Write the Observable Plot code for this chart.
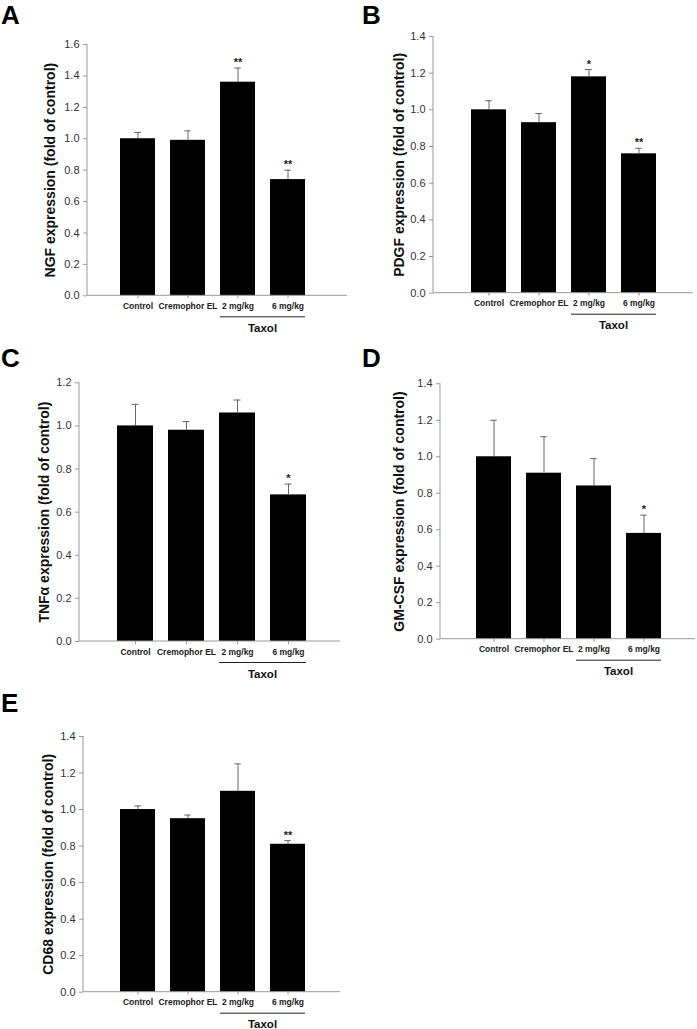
<!DOCTYPE html>
<html>
<head>
<meta charset="utf-8">
<script src="https://cdn.jsdelivr.net/npm/d3@7"></script>
<script src="https://cdn.jsdelivr.net/npm/@observablehq/plot@0.6"></script>
<style>
  html, body { margin: 0; padding: 0; background: #fff; }
  #fig { position: relative; width: 697px; height: 1029px; overflow: hidden; font-family: "Liberation Sans", Arial, sans-serif; }
  .panel { position: absolute; }
  .letter { position: absolute; font: bold 26px/26px "Liberation Sans", Arial, sans-serif; color: #000; }
</style>
</head>
<body>
<div id="fig"></div>
<script>
// ---------- data ----------
const categories = ["Control", "Cremophor EL", "2 mg/kg", "6 mg/kg"];
const groupLabel = "Taxol";
const groupMembers = ["2 mg/kg", "6 mg/kg"];

const ngfMean  = [1.00, 0.99, 1.36, 0.74];
const ngfErr   = [0.04, 0.06, 0.09, 0.06];
const ngfSig   = ["", "", "**", "**"];

const pdgfMean = [1.00, 0.93, 1.18, 0.76];
const pdgfErr  = [0.05, 0.05, 0.04, 0.03];
const pdgfSig  = ["", "", "*", "**"];

const tnfMean  = [1.00, 0.98, 1.06, 0.68];
const tnfErr   = [0.10, 0.04, 0.06, 0.05];
const tnfSig   = ["", "", "", "*"];

const gmcsfMean = [1.00, 0.91, 0.84, 0.58];
const gmcsfErr  = [0.20, 0.20, 0.15, 0.10];
const gmcsfSig  = ["", "", "", "*"];

const cd68Mean = [1.00, 0.95, 1.10, 0.81];
const cd68Err  = [0.02, 0.02, 0.15, 0.02];
const cd68Sig  = ["", "", "", "**"];

const yTicksA = [0, 0.2, 0.4, 0.6, 0.8, 1.0, 1.2, 1.4, 1.6];
const yTicks14 = [0, 0.2, 0.4, 0.6, 0.8, 1.0, 1.2, 1.4];
const yTicks12 = [0, 0.2, 0.4, 0.6, 0.8, 1.0, 1.2];

// ---------- panels (data + layout) ----------
const panels = [
  {letter: "A", label: "NGF expression (fold of control)", mean: ngfMean, err: ngfErr, sig: ngfSig, ticks: yTicksA,
   L: {svgLeft: 0, svgTop: 0, svgW: 348, svgH: 340, frameLeft: 87, frameRight: 347, yTop: 44, y0: 295.3,
       barLeft: 119, step: 50.3, barW: 35.5, labelX: 50, letterLeft: 1, letterTop: 2}},
  {letter: "B", label: "PDGF expression (fold of control)", mean: pdgfMean, err: pdgfErr, sig: pdgfSig, ticks: yTicks14,
   L: {svgLeft: 345, svgTop: 0, svgW: 352, svgH: 340, frameLeft: 433, frameRight: 693, yTop: 36, y0: 292.7,
       barLeft: 469, step: 51, barW: 35.5, labelX: 399, letterLeft: 362, letterTop: 2}},
  {letter: "C", label: "TNFα expression (fold of control)", mean: tnfMean, err: tnfErr, sig: tnfSig, ticks: yTicks12,
   L: {svgLeft: 0, svgTop: 335, svgW: 348, svgH: 345, frameLeft: 79, frameRight: 340, yTop: 382.3, y0: 641,
       barLeft: 116, step: 51.3, barW: 36, labelX: 44, letterLeft: 1, letterTop: 345}},
  {letter: "D", label: "GM-CSF expression (fold of control)", mean: gmcsfMean, err: gmcsfErr, sig: gmcsfSig, ticks: yTicks14,
   L: {svgLeft: 345, svgTop: 335, svgW: 352, svgH: 345, frameLeft: 440, frameRight: 695, yTop: 383.3, y0: 638.7,
       barLeft: 474, step: 51, barW: 35.5, labelX: 399, letterLeft: 362, letterTop: 345}},
  {letter: "E", label: "CD68 expression (fold of control)", mean: cd68Mean, err: cd68Err, sig: cd68Sig, ticks: yTicks14,
   L: {svgLeft: 0, svgTop: 680, svgW: 348, svgH: 349, frameLeft: 83, frameRight: 340, yTop: 736, y0: 991.7,
       barLeft: 118, step: 51, barW: 35.5, labelX: 48, letterLeft: 1, letterTop: 690}}
];

const fig = document.getElementById("fig");
const FONT = "Liberation Sans, Arial, sans-serif";

for (const p of panels) {
  const L = p.L;
  const rows = categories.map((c, i) => ({cat: c, mean: p.mean[i], top: p.mean[i] + p.err[i], sig: p.sig[i]}));
  const pad = 1 - L.barW / L.step;
  const r0 = L.barLeft - L.step * pad - L.svgLeft;
  const r1 = r0 + L.step * (categories.length + pad);
  const yMax = p.ticks[p.ticks.length - 1];
  const marginLeft = L.frameLeft - L.svgLeft;
  const marginRight = L.svgLeft + L.svgW - L.frameRight;
  const marginTop = L.yTop - L.svgTop;
  const marginBottom = L.svgTop + L.svgH - L.y0;

  const plot = Plot.plot({
    width: L.svgW,
    height: L.svgH,
    marginLeft, marginRight, marginTop, marginBottom,
    style: {background: "transparent", fontFamily: FONT, overflow: "visible"},
    x: {type: "band", domain: categories, range: [r0, r1], padding: pad, label: null},
    y: {domain: [0, yMax], label: null},
    marks: [
      Plot.barY(rows, {x: "cat", y: "mean", fill: "#000"}),
      Plot.ruleX(rows, {x: "cat", y1: "mean", y2: "top", stroke: "#666", strokeWidth: 1}),
      Plot.tickY(rows, {x: "cat", y: "top", stroke: "#666", strokeWidth: 1,
                        insetLeft: (L.barW - 7) / 2, insetRight: (L.barW - 7) / 2}),
      Plot.text(rows, {x: "cat", y: "top", text: "sig", dy: -2, lineAnchor: "bottom",
                       fontSize: 11, fontWeight: "bold", fill: "#222"}),
      Plot.axisY({ticks: p.ticks, tickFormat: d3.format(".1f"), tickSize: 4, tickPadding: 4,
                  fontSize: 11, stroke: "#999", fill: "#333", label: null}),
      Plot.axisX({tickSize: 3, tickPadding: 4, fontSize: 8.5, fontWeight: "bold",
                  stroke: "#999", fill: "#222", label: null}),
      Plot.text([p.label], {frameAnchor: "left", dx: -(L.frameLeft - L.labelX), rotate: -90,
                            textAnchor: "middle", lineAnchor: "middle",
                            fontSize: 14, fontWeight: "bold", fill: "#111"})
    ]
  });

  // axis lines and the Taxol grouping bracket, placed from the plot's own scales
  const sx = plot.scale("x");
  const svg = d3.select(plot);
  const fx0 = marginLeft, fx1 = L.svgW - marginRight;
  const fy0 = marginTop, fy1 = L.svgH - marginBottom;
  svg.append("line").attr("x1", fx0).attr("x2", fx0).attr("y1", fy0).attr("y2", fy1)
     .attr("stroke", "#999").attr("stroke-width", 1);
  svg.append("line").attr("x1", fx0).attr("x2", fx1).attr("y1", fy1).attr("y2", fy1)
     .attr("stroke", "#999").attr("stroke-width", 1);

  const gx0 = sx.apply(groupMembers[0]);
  const gx1 = sx.apply(groupMembers[groupMembers.length - 1]) + sx.bandwidth;
  const by = fy1 + 21.5;
  svg.append("line").attr("x1", gx0).attr("x2", gx1).attr("y1", by).attr("y2", by)
     .attr("stroke", "#222").attr("stroke-width", 1);
  svg.append("text").attr("x", (gx0 + gx1) / 2).attr("y", by + 15)
     .attr("text-anchor", "middle").attr("font-family", FONT)
     .attr("font-size", 11.5).attr("font-weight", "bold").attr("fill", "#111")
     .text(groupLabel);

  plot.classList.add("panel");
  plot.style.left = L.svgLeft + "px";
  plot.style.top = L.svgTop + "px";
  plot.style.maxWidth = "none";
  fig.appendChild(plot);

  const letter = document.createElement("div");
  letter.className = "letter";
  letter.textContent = p.letter;
  letter.style.left = L.letterLeft + "px";
  letter.style.top = L.letterTop + "px";
  fig.appendChild(letter);
}
</script>
</body>
</html>
